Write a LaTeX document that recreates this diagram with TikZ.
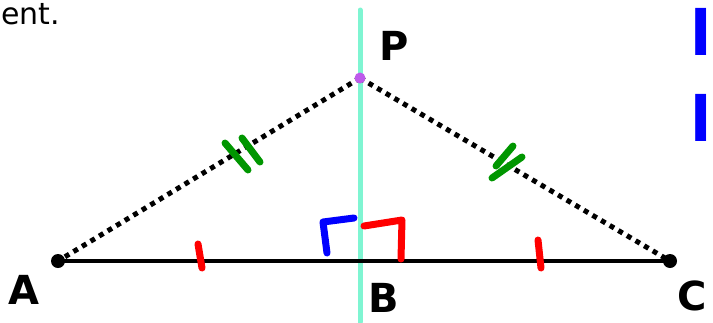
\documentclass[tikz,border=0pt]{standalone}
\usepackage{fontspec}
\setmainfont{DejaVu Sans}
\definecolor{aqua}{RGB}{127,245,210}
\definecolor{pdot}{RGB}{190,90,235}
\definecolor{mred}{RGB}{255,0,0}
\definecolor{mgreen}{RGB}{0,150,0}
\definecolor{mblue}{RGB}{0,0,255}
\tikzset{
  lbl/.style={inner sep=0pt, font=\fontsize{40}{40}\selectfont\bfseries},
  tick/.style={line width=7pt, line cap=round, line join=round},
  dots/.style={line width=5pt, dash pattern=on 5pt off 5pt},
}
\begin{document}
\begin{tikzpicture}[x=1pt,y=-1pt]
\useasboundingbox (0,0) rectangle (713,322);
\coordinate (A) at (58,261);
\coordinate (B) at (360,261);
\coordinate (C) at (670,261);
\coordinate (P) at (360,78);
\coordinate (Ptop) at (360,10);
\coordinate (Pbot) at (360,322);
% perpendicular bisector
\draw[aqua, line width=5pt, line cap=round] (Ptop) -- (Pbot);
% dotted sides
\draw[dots] (P) -- (A);
\draw[dots] (P) -- (C);
% base
\draw[line width=4pt] (A) -- (C);
\fill (A) circle (7);
\fill (C) circle (7);
\fill[pdot] (P) circle (5.5);
% red equal ticks
\draw[tick, mred] (198,244) -- (202,268);
\draw[tick, mred] (538,240) -- (541,268);
% green double ticks
\draw[tick, mgreen] (225,143) -- (248,170);
\draw[tick, mgreen] (242,138) -- (260,162);
\draw[tick, mgreen] (513,146) -- (496,166);
\draw[tick, mgreen] (522,157) -- (492,178);
% right angle marks
\draw[tick, mblue] (327,253) -- (323,222) -- (354,218);
\draw[tick, mred] (364,226) -- (402,220) -- (401,259);
% labels
\node[inner sep=0pt, anchor=north west] (tent) at (1,3) {\fontsize{30}{30}\selectfont ent.};
\node[lbl] (lP) at (394,46) {P};
\node[lbl] (lA) at (24,290) {A};
\node[lbl] (lB) at (384,298) {B};
\node[lbl] (lC) at (692,296) {C};
\node[lbl, mblue, anchor=west, font=\fontsize{62}{62}\selectfont\bfseries] (l1) at (690,32) {l};
\node[lbl, mblue, anchor=west, font=\fontsize{62}{62}\selectfont\bfseries] (l2) at (690,118) {l};
\end{tikzpicture}
\end{document}
